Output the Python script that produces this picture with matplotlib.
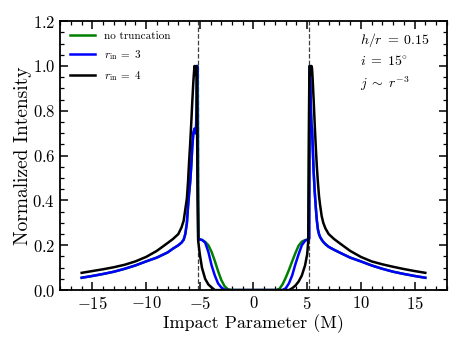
import numpy as np
import matplotlib
matplotlib.use("Agg")
import matplotlib.pyplot as plt
from matplotlib.ticker import MultipleLocator

plt.rcParams["font.family"] = "serif"
plt.rcParams["font.serif"] = ["cmr10"]
plt.rcParams["mathtext.fontset"] = "cm"
plt.rcParams["axes.formatter.use_mathtext"] = True

# |impact parameter| sample points, shared by both sides of the profile
b_half = [2.1, 2.4, 2.7, 3.0, 3.3, 3.6, 3.9, 4.2, 4.5, 4.8, 5.0, 5.1, 5.15, 5.2,
          5.25, 5.3, 5.35, 5.4, 5.45, 5.5, 5.6, 5.7, 5.8, 5.9, 6.0, 6.1, 6.2,
          6.35, 6.5, 6.7, 7.0, 7.5, 8.0, 9.0, 10.0, 11.0, 12.0, 13.0, 14.0,
          15.0, 16.0]

# intensities, listed outward from b = 0 (left = negative b side)
green_left = [0.0, 0.004, 0.018, 0.045, 0.085, 0.13, 0.17, 0.2, 0.215, 0.224,
              0.226, 0.226, 0.5, 1.0, 1.0, 0.8, 0.72, 0.7, 0.71, 0.72, 0.7,
              0.64, 0.55, 0.48, 0.43, 0.37, 0.3, 0.25, 0.225, 0.212, 0.2,
              0.185, 0.168, 0.145, 0.128, 0.11, 0.095, 0.082, 0.072, 0.063,
              0.055]
green_right = [0.0, 0.005, 0.025, 0.055, 0.09, 0.128, 0.165, 0.198, 0.216,
               0.223, 0.225, 0.226, 0.5, 1.0, 1.0, 0.9, 0.8, 0.74, 0.72, 0.66,
               0.53, 0.44, 0.37, 0.31, 0.27, 0.25, 0.237, 0.225, 0.215, 0.205,
               0.193, 0.18, 0.168, 0.145, 0.128, 0.11, 0.095, 0.082, 0.072,
               0.063, 0.055]
blue_left = [0.0, 0.0, 0.002, 0.012, 0.03, 0.065, 0.11, 0.17, 0.212, 0.224,
             0.226, 0.226, 0.226, 0.5, 1.0, 0.8, 0.72, 0.7, 0.71, 0.72, 0.7,
             0.64, 0.55, 0.48, 0.43, 0.37, 0.3, 0.25, 0.225, 0.212, 0.2,
             0.185, 0.168, 0.145, 0.128, 0.11, 0.095, 0.082, 0.072, 0.063,
             0.055]
blue_right = [0.0, 0.0, 0.0, 0.008, 0.03, 0.065, 0.115, 0.16, 0.2, 0.22,
              0.225, 0.226, 0.226, 0.23, 1.0, 0.9, 0.8, 0.74, 0.72, 0.66,
              0.53, 0.44, 0.37, 0.31, 0.27, 0.25, 0.237, 0.225, 0.215, 0.205,
              0.193, 0.18, 0.168, 0.145, 0.128, 0.11, 0.095, 0.082, 0.072,
              0.063, 0.055]
black_left = [0.0, 0.0, 0.0, 0.0, 0.0, 0.0, 0.012, 0.025, 0.05, 0.1, 0.16,
              0.2, 0.22, 0.4, 0.7, 0.98, 1.0, 0.96, 0.98, 1.0, 0.93, 0.84,
              0.74, 0.65, 0.57, 0.48, 0.41, 0.36, 0.31, 0.28, 0.25, 0.228,
              0.21, 0.175, 0.148, 0.128, 0.113, 0.102, 0.093, 0.085, 0.077]
black_right = [0.0, 0.0, 0.0, 0.0, 0.0, 0.008, 0.02, 0.038, 0.065, 0.11,
               0.16, 0.22, 0.6, 0.95, 1.0, 0.97, 0.96, 1.0, 0.99, 0.95, 0.85,
               0.74, 0.64, 0.55, 0.48, 0.42, 0.38, 0.33, 0.3, 0.275, 0.25,
               0.228, 0.21, 0.175, 0.148, 0.128, 0.115, 0.104, 0.094, 0.085,
               0.077]

labels = ["no truncation", r"$r_{\rm in}\;=\;3$", r"$r_{\rm in}\;=\;4$"]
colors = ["green", "blue", "black"]
dashed_b = [-5.2, 5.2]
notes = [r"$h/r\;=\;0.15$", r"$i\;=\;15^{\circ}$", r"$j\;\sim\;r^{-3}$"]


def full_profile(left, right):
    b = np.concatenate([-np.array(b_half)[::-1], np.array(b_half)])
    y = np.concatenate([np.array(left)[::-1], np.array(right)])
    return b, y


fig = plt.figure(figsize=(4.63, 3.47), dpi=100)
ax = fig.add_axes([0.13, 0.164, 0.835, 0.775])

for line in dashed_b:
    ax.axvline(line, color="0.25", ls="--", lw=0.9, zorder=1)

curves = [(green_left, green_right), (blue_left, blue_right), (black_left, black_right)]
for (left, right), c, lab in zip(curves, colors, labels):
    b, y = full_profile(left, right)
    ax.plot(b, y, color=c, lw=1.8, label=lab)

ax.set_xlim(-18, 18)
ax.set_ylim(0, 1.2)
ax.xaxis.set_major_locator(MultipleLocator(5))
ax.xaxis.set_minor_locator(MultipleLocator(1))
ax.yaxis.set_major_locator(MultipleLocator(0.2))
ax.yaxis.set_minor_locator(MultipleLocator(0.05))
ax.tick_params(which="both", direction="in", top=True, right=True, labelsize=12)
ax.tick_params(which="major", length=6, width=1.1)
ax.tick_params(which="minor", length=3, width=0.9)
for s in ax.spines.values():
    s.set_linewidth(1.3)

ax.set_xlabel("Impact Parameter (M)", fontsize=13, labelpad=2)
ax.set_ylabel("Normalized Intensity", fontsize=14, labelpad=0)

ax.legend(loc="upper left", frameon=False, fontsize=8, handlelength=2.2,
          borderaxespad=0.5, labelspacing=0.65)

for k, note in enumerate(notes):
    ax.text(0.776, 0.93 - 0.082 * k, note, transform=ax.transAxes,
            fontsize=10, va="center")

fig.savefig("out.png", dpi=100)
